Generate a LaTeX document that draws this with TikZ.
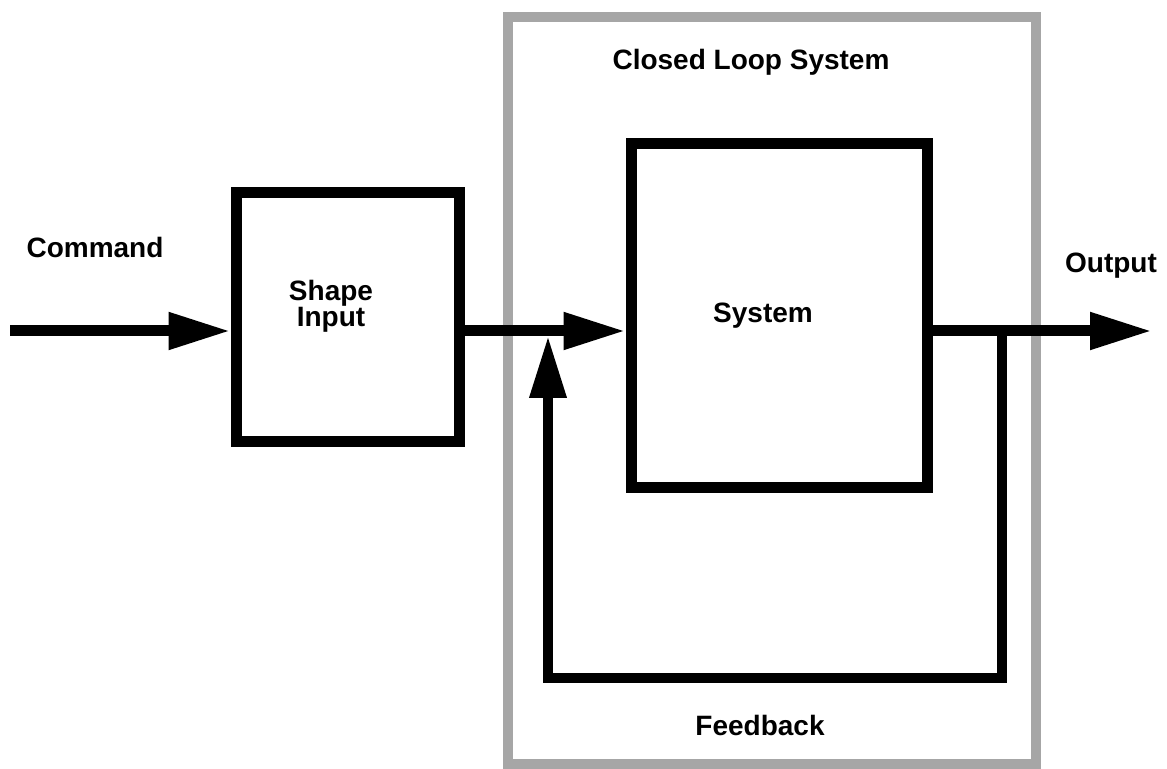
\documentclass[tikz,border=0pt]{standalone}
\usepackage{fontspec}
\setmainfont{Liberation Sans}
\usetikzlibrary{arrows.meta,positioning}

\begin{document}
\begin{tikzpicture}[
  x=0.5pt, y=-0.5pt,
  every node/.style={font=\fontsize{14}{13}\selectfont\bfseries},
  block/.style={draw, line width=5.5pt, inner sep=0pt},
  frame/.style={draw=black!35, line width=5pt, inner sep=0pt},
  bigarrow/.style={line width=5.5pt, -{Triangle[length=31pt, width=17.5pt]}},
]
\useasboundingbox (0,0) rectangle (1167,769);

%% -- Frame of the closed loop ------------------------------------------------
\node[frame, minimum width=264pt, minimum height=373.5pt] (loop) at (772,390.5) {};
\node[anchor=base] (looptxt) at (751,70) {Closed Loop System};

%% -- Blocks ------------------------------------------------------------------
\node[block, minimum width=111.5pt, minimum height=124.5pt] (shape) at (347.5,317.5) {};
\node[align=center] (shapetxt) at (331,306) {Shape\\Input};

\node[block, minimum width=148pt, minimum height=172pt] (sys) at (779,316) {};
\node[anchor=base] (systxt) at (763,323) {System};

%% -- Labels ------------------------------------------------------------------
\node[anchor=base] (cmdtxt) at (95,258) {Command};
\node[anchor=base] (outtxt) at (1111,273) {Output};
\node[anchor=base] (fbtxt)  at (760,735) {Feedback};

%% -- Signal lines ------------------------------------------------------------
\coordinate (cmdin) at (10,331);
\coordinate (tap)   at (1002,331);
\coordinate (fbin)  at (548,336);
\coordinate (out)   at (1152,331);

\draw[bigarrow] (cmdin) -- (shape.west |- cmdin);
\draw[bigarrow] (shape.east |- tap) -- (sys.west |- tap);
\draw[bigarrow] (sys.east |- tap) -- (out);

% feedback path back to the summing point
\draw[bigarrow, line width=5pt] (tap) -- ++(0,347) -| (fbin);

\end{tikzpicture}
\end{document}
